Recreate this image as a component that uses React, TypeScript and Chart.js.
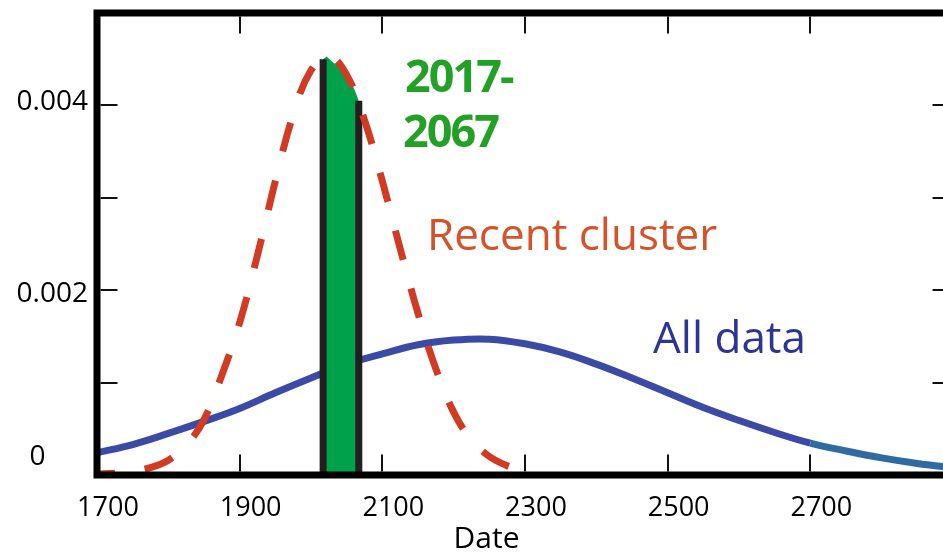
import React, { useEffect, useRef } from "react";
import { Chart, registerables } from "chart.js";

Chart.register(...registerables);

// ---- data ----
const xTicks = [1700, 1900, 2100, 2300, 2500, 2700];
const yTicks = [0, 0.001, 0.002, 0.003, 0.004];
const yTickLabels = ["0", "", "0.002", "", "0.004"];

const allYears = [1700, 1750, 1800, 1850, 1900, 1950, 2000, 2050, 2100, 2150, 2200, 2250, 2300, 2350, 2400, 2450, 2500, 2550, 2600, 2650, 2700, 2750, 2800, 2850, 2900];
const allDensity = [0.00024, 0.00033, 0.00045, 0.00058, 0.00072, 0.00089, 0.00105, 0.0012, 0.00131, 0.00141, 0.00146, 0.00147, 0.00142, 0.00133, 0.0012, 0.00105, 0.00089, 0.00073, 0.00059, 0.00046, 0.000345, 0.00026, 0.000185, 0.000125, 0.00008];

const recentYears = [1700, 1725, 1750, 1775, 1800, 1825, 1850, 1875, 1900, 1925, 1950, 1975, 2000, 2025, 2050, 2075, 2100, 2125, 2150, 2175, 2200, 2225, 2250, 2275, 2290];
const recentDensity = [0.00001, 0.00002, 0.00004, 0.00008, 0.00016, 0.00032, 0.0006, 0.00108, 0.00165, 0.00238, 0.00318, 0.0039, 0.00438, 0.00453, 0.00433, 0.00384, 0.00318, 0.00245, 0.00175, 0.00115, 0.00068, 0.00038, 0.0002, 0.0001, 0.00006];

const windowYears = [2017, 2022, 2030, 2041, 2052, 2057, 2062, 2067];
const windowDensity = [0.0045, 0.00453, 0.00447, 0.00441, 0.00432, 0.00424, 0.00415, 0.00405];

const windowEdges = [2017, 2067];
const windowEdgeHeights = [0.0045, 0.00405];

const windowLabel = ["2017-", "2067"];
const recentLabel = "Recent cluster";
const allLabel = "All data";
const xTitle = "Date";

const FONT = "'Open Sans', 'Noto Sans', sans-serif";

const framePlugin = {
  id: "frame",
  afterDatasetsDraw(chart: any) {
    const { ctx, chartArea: a, scales } = chart;
    const xs = scales.x;
    const ys = scales.y;
    ctx.save();
    // frame
    ctx.strokeStyle = "#000";
    ctx.lineWidth = 7;
    ctx.lineJoin = "miter";
    ctx.strokeRect(a.left, a.top, a.right - a.left, a.bottom - a.top);

    // inner ticks
    const inset = 3.5;
    const len = 17;
    ctx.lineWidth = 2;
    ctx.strokeStyle = "#111";
    const seg = (x1: number, y1: number, x2: number, y2: number) => {
      ctx.beginPath();
      ctx.moveTo(x1, y1);
      ctx.lineTo(x2, y2);
      ctx.stroke();
    };
    xTicks.forEach((v) => {
      if (v === xs.min) return;
      const px = Math.round(xs.getPixelForValue(v));
      seg(px, a.bottom - inset, px, a.bottom - inset - len);
      seg(px, a.top + inset, px, a.top + inset + len);
    });
    yTicks.forEach((v) => {
      if (v === ys.min) return;
      const py = Math.round(ys.getPixelForValue(v));
      seg(a.left + inset, py, a.left + inset + len, py);
      seg(a.right - inset, py, a.right - inset - len, py);
    });

    // x tick labels
    ctx.fillStyle = "#000";
    ctx.font = `27px ${FONT}`;
    ctx.textAlign = "center";
    ctx.textBaseline = "alphabetic";
    xTicks.forEach((v) => {
      ctx.fillText(String(v), xs.getPixelForValue(v) + 11, a.bottom + 41);
    });

    // y tick labels
    ctx.font = `28px ${FONT}`;
    yTicks.forEach((v, i) => {
      const t = yTickLabels[i];
      if (!t) return;
      const py = ys.getPixelForValue(v);
      if (v === 0) {
        ctx.textAlign = "center";
        ctx.fillText(t, 37.5, py - 10);
      } else {
        ctx.textAlign = "right";
        const dy = v > 0.003 ? 5 : 12;
        ctx.fillText(t, a.left - 9, py + dy);
      }
    });

    // axis title
    ctx.textAlign = "center";
    ctx.font = `30px ${FONT}`;
    ctx.fillText(xTitle, 486.5, a.bottom + 73);

    // annotations
    ctx.textAlign = "left";
    ctx.fillStyle = "#22a126";
    ctx.font = `bold 45px ${FONT}`;
    try { (ctx as any).letterSpacing = "-2px"; } catch (e) {}
    ctx.fillText(windowLabel[0], 405, 92);
    ctx.fillText(windowLabel[1], 403, 147);
    try { (ctx as any).letterSpacing = "0px"; } catch (e) {}

    ctx.font = `44px ${FONT}`;
    ctx.fillStyle = "#d5532b";
    ctx.fillText(recentLabel, 427, 250);
    ctx.fillStyle = "#2c3592";
    ctx.fillText(allLabel, 653, 353);

    ctx.restore();
  },
};

export default function App() {
  const ref = useRef<HTMLCanvasElement>(null);

  useEffect(() => {
    if (!ref.current) return;
    const chart = new Chart(ref.current, {
      type: "line",
      data: {
        datasets: [
          {
            label: "Recent cluster",
            data: recentYears.map((x, i) => ({ x, y: recentDensity[i] })),
            borderColor: "#d13b24",
            borderWidth: 7,
            borderDash: [30, 30],
            borderDashOffset: 12,
            borderCapStyle: "butt",
            pointRadius: 0,
            fill: false,
            tension: 0.4,
            order: 0,
          } as any,
          {
            label: "Left edge",
            data: [
              { x: windowEdges[0], y: 0 },
              { x: windowEdges[0], y: windowEdgeHeights[0] },
            ],
            borderColor: "#231f20",
            borderWidth: 7,
            borderCapStyle: "butt",
            pointRadius: 0,
            fill: false,
            order: 1,
          } as any,
          {
            label: "Right edge",
            data: [
              { x: windowEdges[1], y: 0 },
              { x: windowEdges[1], y: windowEdgeHeights[1] },
            ],
            borderColor: "#231f20",
            borderWidth: 7,
            borderCapStyle: "butt",
            pointRadius: 0,
            fill: false,
            order: 1,
          } as any,
          {
            label: "Window",
            data: windowYears.map((x, i) => ({ x, y: windowDensity[i] })),
            borderWidth: 0,
            borderColor: "rgba(0,0,0,0)",
            backgroundColor: "#00a14b",
            pointRadius: 0,
            fill: "origin",
            tension: 0,
            order: 2,
          } as any,
          {
            label: "All data",
            data: allYears.map((x, i) => ({ x, y: allDensity[i] })),
            borderColor: "#3b4ba5",
            borderWidth: 7,
            pointRadius: 0,
            fill: false,
            tension: 0.4,
            segment: {
              borderColor: (c: any) => (c.p0.parsed.x >= 2700 ? "#2f6aa3" : "#3b4ba5"),
            },
            order: 3,
          } as any,
        ],
      },
      options: {
        animation: false,
        responsive: false,
        devicePixelRatio: 1,
        layout: { padding: { left: 97, right: 12, top: 13, bottom: 77 } },
        scales: {
          x: { type: "linear", min: 1700, max: 2900, display: false, offset: false },
          y: { type: "linear", min: 0, max: 0.005, display: false },
        },
        plugins: {
          legend: { display: false },
          tooltip: { enabled: false },
        },
      } as any,
      plugins: [framePlugin],
    });
    return () => chart.destroy();
  }, []);

  return (
    <div
      style={{
        position: "fixed",
        left: 0,
        top: 0,
        width: 943,
        height: 552,
        overflow: "hidden",
        background: "#fff",
      }}
    >
      <canvas ref={ref} width={965} height={552} style={{ display: "block" }} />
    </div>
  );
}
